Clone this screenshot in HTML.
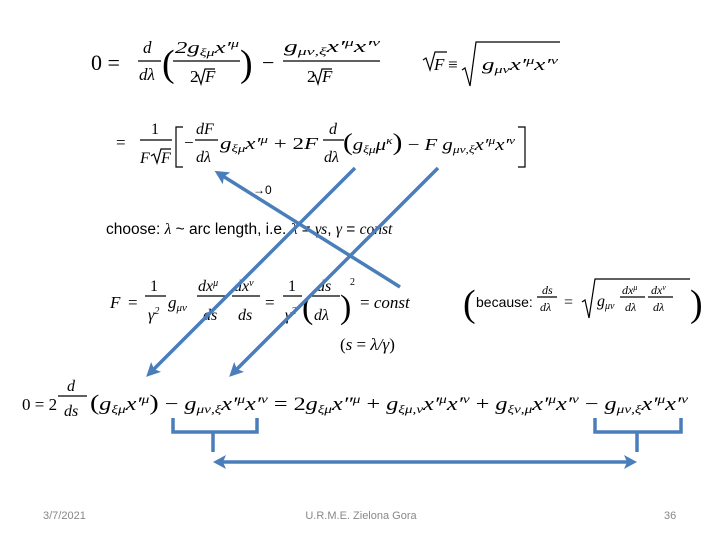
<!DOCTYPE html>
<html><head><meta charset="utf-8"><style>
html,body{margin:0;padding:0;background:#fff;}
svg{display:block;}
.m{font-family:"Liberation Serif",serif;font-style:italic;fill:#000;}
.r{font-family:"Liberation Serif",serif;fill:#000;}
.s{font-family:"Liberation Sans",sans-serif;fill:#000;}
.f{font-family:"Liberation Sans",sans-serif;fill:#888;font-size:11px;}
</style></head><body>
<svg width="720" height="540" viewBox="0 0 720 540" xmlns="http://www.w3.org/2000/svg">
<defs>
<marker id="ah2" markerWidth="14" markerHeight="14" refX="10" refY="7" orient="auto" markerUnits="userSpaceOnUse">
<path d="M0,0 L14,7 L0,14 L3,7 z" fill="#4a7ebb"/></marker>
</defs>
<g stroke="#000" stroke-width="1.3">
<line x1="138" y1="61" x2="161" y2="61"/><line x1="173" y1="61" x2="240" y2="61"/><line x1="283" y1="61" x2="380" y2="61"/>
<line x1="140" y1="140" x2="172" y2="140"/><line x1="195" y1="140" x2="218" y2="140"/><line x1="323" y1="140" x2="344" y2="140"/>
<line x1="145" y1="296" x2="166" y2="296"/><line x1="197" y1="296" x2="226" y2="296"/><line x1="232" y1="296" x2="260" y2="296"/><line x1="283" y1="296" x2="302" y2="296"/><line x1="312" y1="296" x2="340" y2="296"/>
<line x1="537" y1="297" x2="557" y2="297"/><line x1="620" y1="297" x2="645" y2="297"/><line x1="648" y1="297" x2="673" y2="297"/>
<line x1="58" y1="396" x2="87" y2="396"/>
</g>
<g fill="none" stroke="#000" stroke-width="1.2">
<path d="M462,70 L465,68 L470,86 L476,42 L560,42"/>
<path d="M423,60 L426,58 L430,70 L435,52 L447,52"/>
<path d="M195,77 L198,75 L201,84 L205,69 L215,69"/>
<path d="M312,77 L315,75 L318,84 L322,69 L332,69"/>
<path d="M151,156 L154,154 L157,163 L161,149 L171,149"/>
<path d="M582,302 L585,300 L589,318 L595,279 L690,279"/>
<path d="M183,127 L176,127 L176,167 L183,167"/>
<path d="M518,127 L525,127 L525,167 L518,167"/>
</g>
<text class="r" x="91" y="70" font-size="22">0 =</text>
<text class="m" x="143" y="53" font-size="17">d</text>
<text class="m" x="139" y="80" font-size="17">dλ</text>
<text class="r" x="162" y="76" font-size="38">(</text>
<text class="m" x="175" y="53" font-size="17" textLength="64" lengthAdjust="spacingAndGlyphs">2g<tspan font-size="11" dy="3">ξμ</tspan><tspan dy="-3">x′</tspan><tspan font-size="11" dy="-6">μ</tspan></text>
<text class="r" x="190" y="82" font-size="17">2</text><text class="m" x="205" y="82" font-size="17">F</text>
<text class="r" x="240" y="76" font-size="38">)</text>
<text class="r" x="262" y="70" font-size="22">−</text>
<text class="m" x="284" y="52" font-size="17" textLength="96" lengthAdjust="spacingAndGlyphs">g<tspan font-size="11" dy="3">μν,ξ</tspan><tspan dy="-3">x′</tspan><tspan font-size="11" dy="-6">μ</tspan><tspan dy="6">x′</tspan><tspan font-size="11" dy="-6">ν</tspan></text>
<text class="r" x="307" y="82" font-size="17">2</text><text class="m" x="322" y="82" font-size="17">F</text>
<text class="m" x="434" y="70" font-size="17">F</text>
<text class="r" x="448" y="70" font-size="17">≡</text>
<text class="m" x="482" y="70" font-size="17" textLength="76" lengthAdjust="spacingAndGlyphs">g<tspan font-size="11" dy="3">μν</tspan><tspan dy="-3">x′</tspan><tspan font-size="11" dy="-6">μ</tspan><tspan dy="6">x′</tspan><tspan font-size="11" dy="-6">ν</tspan></text>

<text class="r" x="116" y="148" font-size="17">=</text>
<text class="r" x="151" y="134" font-size="16">1</text>
<text class="m" x="140" y="163" font-size="16">F</text><text class="m" x="161" y="163" font-size="16">F</text>
<text class="r" x="184" y="148" font-size="17">−</text>
<text class="m" x="196" y="134" font-size="16">dF</text>
<text class="m" x="196" y="162" font-size="16">dλ</text>
<text class="m" x="220" y="149" font-size="17" textLength="98" lengthAdjust="spacingAndGlyphs">g<tspan font-size="11" dy="3">ξμ</tspan><tspan dy="-3">x′</tspan><tspan font-size="11" dy="-6">μ</tspan><tspan class="r" dy="6" font-style="normal"> + 2</tspan>F</text>
<text class="m" x="329" y="134" font-size="16">d</text>
<text class="m" x="324" y="162" font-size="16">dλ</text>
<text class="m" x="343" y="150" font-size="17" textLength="172" lengthAdjust="spacingAndGlyphs"><tspan class="r" font-size="24" font-style="normal">(</tspan>g<tspan font-size="11" dy="3">ξμ</tspan><tspan dy="-3">μ</tspan><tspan font-size="11" dy="-6">κ</tspan><tspan class="r" font-size="24" dy="6" font-style="normal">)</tspan><tspan class="r" font-style="normal"> − </tspan>F g<tspan font-size="11" dy="3">μν,ξ</tspan><tspan dy="-3">x′</tspan><tspan font-size="11" dy="-6">μ</tspan><tspan dy="6">x′</tspan><tspan font-size="11" dy="-6">ν</tspan></text>

<text class="s" x="253" y="194" font-size="12">→0</text>
<text class="s" x="106" y="234" font-size="15.5">choose:  <tspan class="m">λ</tspan> ~ arc length, i.e. <tspan class="m">λ</tspan> = <tspan class="m">γs</tspan>,  <tspan class="m">γ</tspan> = <tspan class="m">const</tspan></text>

<text class="m" x="110" y="308" font-size="17">F</text><text class="r" x="128" y="308" font-size="17">=</text>
<text class="r" x="150" y="291" font-size="16">1</text>
<text class="m" x="148" y="320" font-size="16">γ<tspan font-size="10" dy="-6">2</tspan></text>
<text class="m" x="168" y="308" font-size="17">g<tspan font-size="11" dy="3">μν</tspan></text>
<text class="m" x="198" y="291" font-size="16">dx<tspan font-size="10" dy="-5">μ</tspan></text>
<text class="m" x="203" y="320" font-size="16">ds</text>
<text class="m" x="234" y="291" font-size="16">dx<tspan font-size="10" dy="-5">ν</tspan></text>
<text class="m" x="238" y="320" font-size="16">ds</text>
<text class="r" x="265" y="308" font-size="17">=</text>
<text class="r" x="288" y="291" font-size="16">1</text>
<text class="m" x="285" y="320" font-size="16">γ<tspan font-size="10" dy="-6">2</tspan></text>
<text class="r" x="302" y="318" font-size="34">(</text>
<text class="m" x="317" y="291" font-size="16">ds</text>
<text class="m" x="314" y="320" font-size="16">dλ</text>
<text class="r" x="340" y="318" font-size="34">)</text>
<text class="r" x="350" y="285" font-size="10">2</text>
<text class="m" x="360" y="308" font-size="17"><tspan class="r" font-style="normal">= </tspan>const</text>
<text class="r" x="463" y="316" font-size="38">(</text>
<text class="s" x="476" y="307" font-size="14">because:</text>
<text class="m" x="542" y="294" font-size="12">ds</text>
<text class="m" x="540" y="311" font-size="12">dλ</text>
<text class="r" x="564" y="307" font-size="16">=</text>
<text class="m" x="597" y="306" font-size="16">g<tspan font-size="10" dy="3">μν</tspan></text>
<text class="m" x="622" y="294" font-size="12">dx<tspan font-size="8" dy="-4">μ</tspan></text>
<text class="m" x="625" y="311" font-size="12">dλ</text>
<text class="m" x="651" y="294" font-size="12">dx<tspan font-size="8" dy="-4">ν</tspan></text>
<text class="m" x="653" y="311" font-size="12">dλ</text>
<text class="r" x="690" y="316" font-size="38">)</text>
<text class="m" x="340" y="350" font-size="17"><tspan class="r" font-style="normal">(</tspan>s <tspan class="r" font-style="normal">= </tspan>λ/γ<tspan class="r" font-style="normal">)</tspan></text>

<text class="r" x="22" y="410" font-size="17">0 = 2</text>
<text class="m" x="67" y="391" font-size="16">d</text>
<text class="m" x="64" y="416" font-size="16">ds</text>
<text class="m" x="90" y="410" font-size="19" textLength="598" lengthAdjust="spacingAndGlyphs"><tspan class="r" font-style="normal" font-size="22">(</tspan>g<tspan font-size="12" dy="3">ξμ</tspan><tspan dy="-3">x′</tspan><tspan font-size="12" dy="-7">μ</tspan><tspan class="r" font-style="normal" font-size="22" dy="7">)</tspan><tspan class="r" font-style="normal"> − </tspan>g<tspan font-size="12" dy="3">μν,ξ</tspan><tspan dy="-3">x′</tspan><tspan font-size="12" dy="-7">μ</tspan><tspan dy="7">x′</tspan><tspan font-size="12" dy="-7">ν</tspan><tspan class="r" font-style="normal" dy="7"> = 2</tspan>g<tspan font-size="12" dy="3">ξμ</tspan><tspan dy="-3">x″</tspan><tspan font-size="12" dy="-7">μ</tspan><tspan class="r" font-style="normal" dy="7"> + </tspan>g<tspan font-size="12" dy="3">ξμ,ν</tspan><tspan dy="-3">x′</tspan><tspan font-size="12" dy="-7">μ</tspan><tspan dy="7">x′</tspan><tspan font-size="12" dy="-7">ν</tspan><tspan class="r" font-style="normal" dy="7"> + </tspan>g<tspan font-size="12" dy="3">ξν,μ</tspan><tspan dy="-3">x′</tspan><tspan font-size="12" dy="-7">μ</tspan><tspan dy="7">x′</tspan><tspan font-size="12" dy="-7">ν</tspan><tspan class="r" font-style="normal" dy="7"> − </tspan>g<tspan font-size="12" dy="3">μν,ξ</tspan><tspan dy="-3">x′</tspan><tspan font-size="12" dy="-7">μ</tspan><tspan dy="7">x′</tspan><tspan font-size="12" dy="-7">ν</tspan></text>

<g stroke="#4a7ebb" stroke-width="3.5" fill="none">
<line x1="400" y1="287" x2="218" y2="173" marker-end="url(#ah2)"/>
<line x1="355" y1="168" x2="149" y2="374" marker-end="url(#ah2)"/>
<line x1="438" y1="168" x2="232" y2="374" marker-end="url(#ah2)"/>
<path d="M173,418 L173,432 L213,432 L257,432 L257,418 M213,432 L213,452"/>
<path d="M595,418 L595,432 L681,432 L681,418 M637,432 L637,452"/>
<line x1="222" y1="462" x2="628" y2="462"/>
</g>
<path d="M213,462 L226,455 L223,462 L226,469 z" fill="#4a7ebb"/>
<path d="M637,462 L624,455 L627,462 L624,469 z" fill="#4a7ebb"/>

<text class="f" x="43" y="519">3/7/2021</text>
<text class="f" x="361" y="519" text-anchor="middle">U.R.M.E. Zielona Gora</text>
<text class="f" x="664" y="519">36</text>
</svg>
</body></html>
